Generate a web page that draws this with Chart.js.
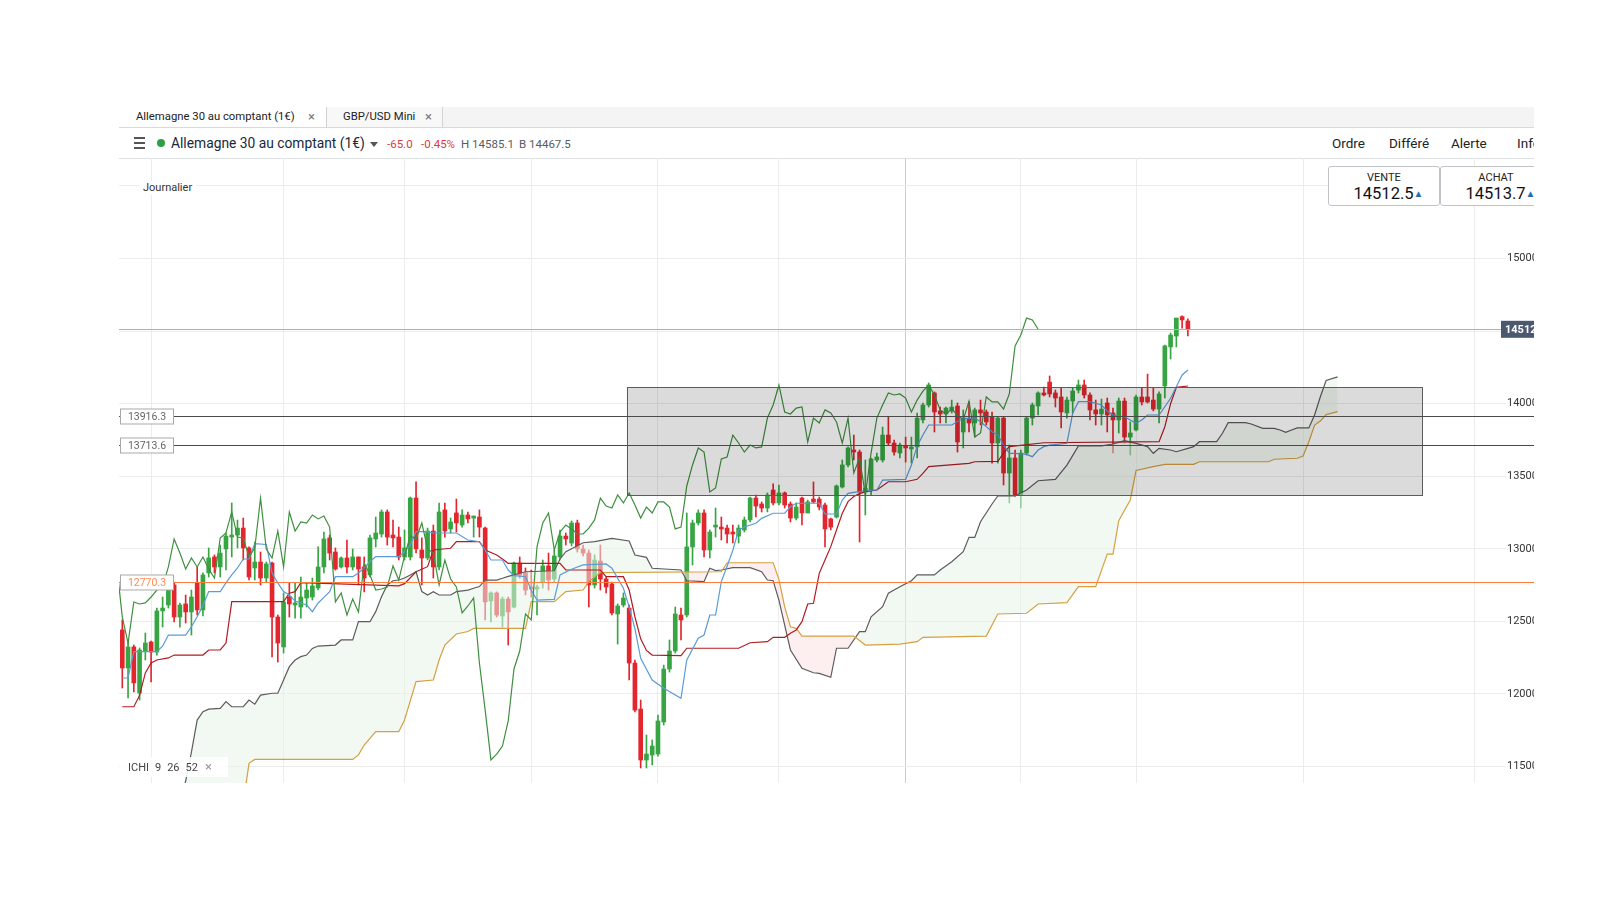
<!DOCTYPE html>
<html>
<head>
<meta charset="utf-8">
<script src="https://cdn.jsdelivr.net/npm/chart.js@4.4.1/dist/chart.umd.min.js"></script>
<style>
  body{margin:0;width:1600px;height:900px;background:#fff;font-family:Roboto,'Open Sans',sans-serif;position:relative;overflow:hidden;color:#222}
  .abs{position:absolute;white-space:nowrap}
  #tabs{left:119px;top:107px;width:1415px;height:20px;background:#f4f4f4;border-bottom:1px solid #d9d9d9}
  .tab{position:absolute;top:0;height:20px;line-height:20px;font-size:11.3px;color:#222;box-sizing:border-box;border-right:1px solid #d2d2d2}
  .tab .x{position:absolute;color:#777;font-size:13px}
  #bar2{left:119px;top:128px;width:1415px;height:30px;border-bottom:1px solid #dfe2e5}
  #wrap{left:119px;top:158px;width:1415px;height:625px;overflow:hidden}
  .nav{top:135px;font-size:13.5px;color:#222}
  .quote{top:166px;height:40px;border:1.5px solid #bfc3c7;border-radius:3px;background:#fff;box-sizing:border-box;text-align:center}
  .quote .t{font-size:11px;color:#222;margin-top:4px;line-height:13px}
  .quote .v{font-size:16.5px;color:#111;line-height:19px;padding-left:9px}
  .quote .v span{color:#2a6fb3;font-size:10px;vertical-align:2px}
</style>
</head>
<body>
<div id="tabs" class="abs">
  <div class="tab" style="left:0;width:208px;background:#fff"><span style="position:absolute;left:17px">Allemagne 30 au comptant (1€)</span><span class="x" style="left:189px">×</span></div>
  <div class="tab" style="left:208px;width:116px;background:#f8f8f8"><span style="position:absolute;left:16px">GBP/USD Mini</span><span class="x" style="left:98px">×</span></div>
</div>
<div id="bar2" class="abs"></div>
<div class="abs" style="left:134px;top:137px;width:11px;height:1.5px;background:#555"></div>
<div class="abs" style="left:134px;top:142px;width:11px;height:1.5px;background:#555"></div>
<div class="abs" style="left:134px;top:147px;width:11px;height:1.5px;background:#555"></div>
<div class="abs" style="left:157px;top:139px;width:8px;height:8px;border-radius:50%;background:#2ea043"></div>
<div class="abs" style="left:171px;top:135px;font-size:13.8px;color:#17283a">Allemagne 30 au comptant (1€)</div>
<div class="abs" style="left:370px;top:142px;width:0;height:0;border-left:4px solid transparent;border-right:4px solid transparent;border-top:5px solid #555"></div>
<div class="abs" style="left:387px;top:137px;font-size:11.5px;color:#e03a3e">-65.0</div>
<div class="abs" style="left:421px;top:137px;font-size:11.5px;color:#e03a3e">-0.45%</div>
<div class="abs" style="left:461px;top:137px;font-size:11.5px;color:#555d66">H 14585.1</div>
<div class="abs" style="left:519px;top:137px;font-size:11.5px;color:#555d66">B 14467.5</div>
<div class="abs nav" style="left:1332px">Ordre</div>
<div class="abs nav" style="left:1389px">Différé</div>
<div class="abs nav" style="left:1451px">Alerte</div>
<div class="abs nav" style="left:1517px;width:17px;overflow:hidden">Info</div>

<div id="wrap" class="abs"><canvas id="c" width="1460" height="625"></canvas></div>

<div class="abs quote" style="left:1328px;width:112px"><div class="t">VENTE</div><div class="v">14512.5<span>▲</span></div></div>
<div class="abs" style="left:1440px;top:166px;width:94px;height:40px;overflow:hidden">
  <div class="quote" style="position:absolute;left:0;top:0;width:112px"><div class="t">ACHAT</div><div class="v">14513.7<span>▲</span></div></div>
</div>
<div class="abs" style="left:139px;top:181px;font-size:11px;line-height:14px;padding:0 4px;background:#fff;color:#333">Journalier</div>
<div class="abs" style="left:120px;top:757px;width:108px;height:20px;background:rgba(255,255,255,0.88);font-size:11px;line-height:20px;color:#444">
  <span style="margin-left:8px">ICHI</span><span style="margin-left:6px">9</span><span style="margin-left:6px">26</span><span style="margin-left:6px">52</span><span style="margin-left:7px;color:#999;font-size:13px">×</span>
</div>

<script>
// bougies journalieres (Allemagne 30)
const openP = [12441,12179,12324,12007,12296,12358,12289,12572,12613,12751,12530,12620,12565,12765,12579,12834,12944,12875,12999,13081,
 13095,13143,13006,12868,12909,12799,12902,12530,12324,12668,12613,12599,12661,12668,12730,12875,13075,12978,12875,12937,
 12875,12944,12875,12820,13068,13102,13254,13095,13081,12944,12944,13350,12992,12937,13123,12875,13268,13137,13247,13164,
 13233,13212,13219,13143,12641,12696,12537,12654,12599,12902,12834,12737,12723,12771,12882,12792,12944,13088,13040,13178,
 12999,12971,12751,12916,12792,12758,12551,12613,12592,12213,11896,11545,11579,11586,11807,12172,12296,12544,12544,13013,
 13178,13247,12992,13150,13150,13143,13116,13088,13130,13199,13350,13309,13281,13405,13316,13385,13309,13212,13350,13247,
 13343,13343,13302,13206,13219,13426,13578,13681,13667,13392,13405,13612,13612,13784,13729,13660,13708,13688,13702,13888,
 13991,14074,13950,13929,13950,13984,13805,13895,13867,13957,13943,13908,13729,13901,13522,13626,13371,13660,13901,13984,
 14074,14149,14074,14046,13936,14018,14094,14129,14060,13957,13929,14005,13936,13888,14018,13770,13819,14046,14046,14025,
 13963,14122,14391,14466,14600,14570];
const highP = [12510,12358,12337,12317,12420,12365,12592,12668,12771,12771,12627,12682,12716,12875,12834,13006,12958,13026,13109,13316,
 13198,13212,13013,13047,12978,12909,12909,12544,12696,12765,12765,12806,12765,12799,13013,13116,13095,13006,12944,13061,
 12999,12944,12944,13095,13219,13268,13268,13198,13150,13130,13357,13461,13075,13143,13164,13316,13316,13212,13343,13268,
 13254,13226,13268,13150,12703,12703,12668,12668,12909,12944,12868,12854,12751,12923,12971,12992,13130,13109,13192,13198,
 13026,12992,12958,13026,12806,12771,12620,12696,12613,12234,11958,11717,11683,11855,12199,12372,12599,12592,13247,13198,
 13268,13268,13130,13281,13219,13164,13164,13164,13219,13357,13371,13323,13385,13447,13440,13392,13323,13316,13357,13336,
 13461,13357,13316,13212,13440,13612,13702,13784,13681,13612,13626,13660,13839,13908,13750,13729,13770,13770,13936,14005,
 14143,14081,13977,13977,14025,14005,13957,14012,13970,14025,13957,13943,13908,13908,13715,13681,13681,13908,14005,14081,
 14115,14191,14094,14108,14046,14108,14163,14163,14074,14025,14032,14039,13970,14039,14039,13874,14060,14108,14204,14108,
 14081,14404,14487,14590,14605,14585.1];
const lowP = [12041,11972,12014,11958,12234,12083,12268,12461,12592,12496,12461,12489,12406,12544,12537,12806,12834,12806,12854,12944,
 13006,12923,12785,12785,12751,12771,12255,12220,12282,12530,12523,12523,12599,12647,12716,12834,12923,12854,12868,12834,
 12854,12751,12703,12806,13013,13081,13026,13013,12923,12923,12923,12971,12751,12923,12799,12854,13081,13109,13116,13150,
 13178,13081,13081,12510,12496,12530,12461,12337,12592,12799,12682,12668,12544,12730,12716,12771,12923,13026,13020,12978,
 12951,12599,12730,12716,12696,12544,12344,12599,12096,11876,11490,11490,11511,11572,11786,12151,12282,12372,12530,12889,
 13164,12944,12937,13081,13061,13040,13040,13040,13116,13185,13219,13254,13254,13302,13302,13281,13185,13199,13164,13247,
 13316,13268,13013,13130,13212,13419,13564,13612,13047,13233,13371,13598,13598,13715,13646,13626,13598,13591,13626,13867,
 13977,13805,13867,13867,13936,13667,13695,13805,13770,13853,13853,13591,13591,13440,13316,13357,13281,13646,13853,13922,
 14053,14046,13977,13833,13901,13936,14074,14039,13888,13853,13853,13805,13660,13798,13729,13646,13812,13991,14005,13950,
 13867,14039,14308,14391,14521,14467.5];
const closeP = [12179,12324,12076,12303,12351,12289,12572,12592,12744,12530,12613,12565,12668,12579,12820,12937,12875,12971,13088,13095,
 13143,13006,12806,12909,12799,12896,12530,12351,12634,12620,12627,12668,12716,12744,12875,13068,12971,12861,12937,12875,
 12944,12861,12799,13075,13109,13254,13081,13075,12944,13006,13350,12999,12937,13123,12875,13254,13123,13185,13178,13233,
 13206,13226,13150,12634,12696,12544,12654,12565,12902,12820,12716,12723,12737,12882,12785,12951,13088,13068,13178,12999,
 12971,12751,12923,12792,12737,12558,12606,12661,12213,11889,11545,11586,11641,11814,12172,12296,12551,12510,13013,13178,
 13247,12992,13116,13164,13137,13102,13102,13143,13199,13350,13295,13281,13371,13316,13385,13302,13212,13288,13247,13323,
 13323,13288,13137,13150,13433,13578,13695,13667,13392,13419,13619,13633,13784,13729,13667,13715,13695,13702,13901,13991,
 14129,13943,13929,13970,13977,13736,13901,13867,13957,13936,13874,13729,13901,13522,13626,13371,13660,13901,13991,14074,
 14060,14067,14039,13943,14025,14087,14129,14060,13957,13929,13963,13922,13888,14018,13770,13798,14046,14012,14012,13963,
 14067,14398,14473,14590,14577,14512.5];

// Ichimoku 9 26 52 : [indice de bougie, prix]
const tenkan = [[0,12110],[1,12110],[2,12291],[6,12291],[7,12330],[8,12406],[11,12406],[12,12463],[13,12532],[14,12610],[15,12705],[17,12705],
 [18,12765],[19,12820],[20,12868],[21,12930],[22,12930],[23,13035],[25,13030],[26,12833],[27,12765],[28,12705],[29,12682],[30,12640],
 [31,12627],[32,12613],[33,12567],[34,12627],[35,12665],[36,12705],[37,12808],[40,12808],[41,12833],[42,12868],[43,12911],[44,12946],
 [48,12946],[49,12980],[50,13026],[51,13118],[53,13118],[54,13109],[58,13109],[60,13061],[62,13049],[63,12992],[64,12923],[66,12923],
 [67,12854],[68,12815],[70,12808],[71,12716],[72,12647],[75,12652],[76,12820],[78,12859],[80,12889],[84,12896],[85,12866],[87,12728],
 [88,12600],[89,12450],[90,12246],[92,12096],[94,12039],[97,11970],[98,12234],[100,12384],[101,12406],[102,12544],[103,12544],[104,12774],
 [105,12880],[106,12990],[107,13130],[108,13150],[110,13176],[111,13210],[113,13245],[115,13245],[116,13290],[117,13314],[121,13314],
 [122,13240],[124,13240],[125,13336],[126,13382],[127,13389],[129,13400],[131,13405],[132,13474],[136,13479],[137,13577],[138,13709],
 [139,13784],[140,13853],[144,13853],[146,13899],[148,13901],[149,13876],[150,13842],[151,13807],[152,13784],[153,13715],[154,13658],
 [155,13658],[157,13651],[158,13635],[159,13681],[160,13704],[161,13715],[164,13727],[165,13934],[166,14014],[168,14014],[170,13991],
 [171,13950],[172,13922],[174,13910],[176,13865],[177,13888],[178,13922],[180,13922],[181,13979],[182,14037],[183,14117],[184,14198],[185,14232]];
const kijun = [[0,11912],[2,11912],[3,11990],[4,12145],[5,12213],[6,12234],[8,12248],[9,12268],[14,12268],[15,12303],[17,12303],[18,12351],
 [19,12636],[28,12636],[29,12694],[30,12705],[31,12767],[48,12745],[49,12760],[51,12842],[53,12877],[54,12992],[57,13004],[58,13049],
 [62,13049],[63,12992],[65,12957],[66,12930],[67,12900],[76,12900],[77,12854],[83,12854],[84,12808],[87,12808],[88,12716],[89,12532],
 [90,12380],[91,12300],[92,12268],[97,12264],[98,12315],[107,12315],[109,12353],[112,12360],[113,12390],[115,12390],[116,12418],[117,12441],
 [118,12498],[119,12620],[120,12625],[121,12831],[122,12923],[123,13015],[124,13130],[125,13245],[126,13325],[127,13360],[128,13380],
 [129,13394],[131,13405],[133,13462],[136,13462],[138,13479],[139,13520],[140,13566],[147,13589],[148,13600],[152,13603],[153,13660],
 [154,13704],[160,13731],[180,13738],[181,13841],[182,14000],[183,14113],[185,14122]];
const senkouA = [[10,11250],[11,11400],[12,11600],[13,11820],[14,11878],[15,11895],[17,11901],[18,11947],[19,11912],[21,11912],[22,11958],
 [23,11930],[24,11992],[26,12005],[27,12005],[28,12096],[29,12188],[30,12234],[31,12257],[32,12268],[33,12314],[34,12330],[37,12337],
 [38,12372],[40,12372],[41,12498],[43,12498],[44,12567],[45,12670],[46,12751],[47,12780],[48,12785],[49,12799],[50,12820],[51,12842],
 [52,12705],[53,12682],[54,12705],[55,12682],[57,12682],[58,12705],[60,12716],[61,12728],[62,12740],[63,12785],[65,12785],[66,12797],
 [67,12810],[68,12820],[70,12842],[75,12849],[76,12930],[77,12980],[80,13042],[82,13049],[85,13072],[88,13054],[89,12957],[91,12941],
 [92,12866],[97,12854],[98,12780],[101,12774],[102,12866],[103,12850],[104,12854],[106,12870],[109,12870],[111,12842],[112,12785],
 [113,12780],[114,12647],[115,12475],[116,12303],[118,12177],[120,12146],[121,12142],[123,12115],[124,12315],[126,12315],[128,12429],
 [129,12429],[130,12532],[132,12601],[133,12694],[135,12739],[137,12780],[138,12820],[141,12820],[142,12854],[144,12911],[146,12980],
 [147,13079],[148,13079],[149,13187],[151,13309],[152,13364],[155,13364],[157,13405],[159,13469],[162,13479],[164,13577],[166,13709],
 [170,13709],[172,13722],[174,13745],[176,13727],[178,13704],[179,13658],[180,13692],[182,13681],[183,13669],[185,13692],[186,13704],
 [187,13738],[190,13738],[191,13796],[192,13869],[195,13869],[196,13860],[198,13830],[200,13830],[201,13819],[202,13803],[203,13819],
 [204,13833],[206,13833],[207,13922],[208,14048],[209,14160],[211,14185]];
const senkouB = [[0,11250],[21,11250],[22,11522],[23,11549],[40,11549],[41,11580],[42,11648],[44,11740],[48,11740],[49,11821],[51,12085],
 [54,12096],[55,12234],[56,12337],[58,12413],[60,12430],[61,12452],[70,12452],[71,12636],[75,12636],[77,12705],[80,12716],[81,12774],
 [83,12836],[104,12842],[105,12904],[113,12904],[114,12790],[115,12600],[116,12463],[117,12452],[118,12399],[127,12399],[129,12337],
 [135,12344],[138,12360],[139,12390],[150,12399],[152,12551],[157,12556],[159,12620],[164,12629],[166,12739],[169,12739],[171,12964],
 [172,12964],[173,13194],[175,13336],[176,13540],[179,13566],[181,13582],[186,13582],[187,13600],[199,13600],[200,13617],[204,13624],
 [205,13640],[206,13738],[207,13853],[208,13880],[209,13925],[211,13945]];
const chikouShift = 26;

// axes
const monthTicks = [5, 28, 49, 71, 93, 114, 136, 156, 176, 205, 234.75];
const yearTick = 136;
const priceTicks = [11500, 12000, 12500, 13000, 13500, 14000, 14500, 15000, 15500];
const xMin = -0.573, xMax = 239.19;
const yMin = 11386.5, yMax = 15692.8;

// niveaux traces
const levelLines = [13916.3, 13713.6];
const alertLevel = 12770.3;
const lastPrice = 14512.5;
const zone = {k0: 87.6, k1: 225.7, lo: 13371, hi: 14113};

const GREEN = '#38a543', RED = '#e3252e';
const idx = openP.map((_, i) => i);
const candleCol = idx.map(i => closeP[i] >= openP[i] ? GREEN : RED);
const pts = arr => arr.map(p => ({x: p[0], y: p[1]}));
const lineDs = (label, data, color, order, extra) => Object.assign({
  type: 'line', label, data, borderColor: color, borderWidth: 1.2, pointRadius: 0, tension: 0, fill: false, order
}, extra || {});

const overlay = {
  id: 'overlay',
  afterDatasetsDraw(chart) {
    const {ctx, chartArea: a, scales: {x, y}} = chart;
    const W = chart.width;
    ctx.save();
    // zone grise
    const bx0 = x.getPixelForValue(zone.k0), bx1 = x.getPixelForValue(zone.k1);
    const by0 = y.getPixelForValue(zone.hi), by1 = y.getPixelForValue(zone.lo);
    ctx.fillStyle = 'rgba(0,0,0,0.14)';
    ctx.fillRect(bx0, by0, bx1 - bx0, by1 - by0);
    ctx.strokeStyle = '#5c5c5c'; ctx.lineWidth = 1;
    ctx.strokeRect(Math.round(bx0) + 0.5, Math.round(by0) + 0.5, Math.round(bx1 - bx0), Math.round(by1 - by0));
    // lignes horizontales
    const hline = (v, col, w) => {
      const py = Math.round(y.getPixelForValue(v)) + 0.5;
      ctx.strokeStyle = col; ctx.lineWidth = w;
      ctx.beginPath(); ctx.moveTo(0, py); ctx.lineTo(W, py); ctx.stroke();
      return py;
    };
    hline(lastPrice, '#a4b0c0', 1);
    const tag = (v, txtCol) => {
      const py = Math.round(y.getPixelForValue(v)) + 0.5;
      ctx.fillStyle = '#fff'; ctx.strokeStyle = '#a9a9a9'; ctx.lineWidth = 1;
      ctx.fillRect(1.5, py - 7.5, 53, 15); ctx.strokeRect(1.5, py - 7.5, 53, 15);
      ctx.fillStyle = txtCol; ctx.font = '10.5px Roboto'; ctx.textAlign = 'center'; ctx.textBaseline = 'middle';
      ctx.fillText(v.toFixed(1), 28, py + 0.5);
    };
    levelLines.forEach(v => { hline(v, '#4a4a4a', 1.2); tag(v, '#666'); });
    hline(alertLevel, '#ff7a3d', 1.2); tag(alertLevel, '#ff8a55');
    // etiquette du dernier cours
    const py = y.getPixelForValue(lastPrice);
    ctx.fillStyle = '#4a5870';
    ctx.fillRect(a.right + 1, py - 8.5, 60, 17);
    ctx.fillStyle = '#fff'; ctx.font = 'bold 11px Roboto'; ctx.textAlign = 'left'; ctx.textBaseline = 'middle';
    ctx.fillText(lastPrice.toFixed(1), a.right + 5, py + 0.5);
    ctx.restore();
  }
};

new Chart(document.getElementById('c'), {
  type: 'bar',
  data: {
    datasets: [
      lineDs('Chikou', closeP.map((c, i) => ({x: i - chikouShift, y: c})), '#3f8f3f', 1),
      lineDs('Tenkan', pts(tenkan), '#5a9bd8', 1),
      lineDs('Kijun', pts(kijun), '#b01c22', 1),
      lineDs('Senkou B', pts(senkouB), '#d6a040', 2),
      lineDs('Senkou A', pts(senkouA), '#5c5c5c', 3, {
        fill: {target: 3, above: 'rgba(231,242,231,0.55)', below: 'rgba(252,226,226,0.55)'}
      }),
      {type: 'bar', label: 'mèches', data: idx.map(i => ({x: i, y: [lowP[i], highP[i]]})),
       backgroundColor: candleCol, barThickness: 1, grouped: false, order: 10},
      {type: 'bar', label: 'corps', data: idx.map(i => ({x: i, y: [openP[i], closeP[i]]})),
       backgroundColor: candleCol, barThickness: 4, minBarLength: 1, grouped: false, order: 9}
    ]
  },
  options: {
    responsive: false,
    animation: false,
    layout: {padding: 0},
    plugins: {legend: {display: false}, tooltip: {enabled: false}},
    scales: {
      x: {
        type: 'linear', min: xMin, max: xMax, offset: false,
        afterBuildTicks: s => { s.ticks = monthTicks.map(v => ({value: v})); },
        afterFit: s => { s.height = 0; s.paddingLeft = 0; s.paddingRight = 0; },
        ticks: {display: false},
        border: {display: false},
        grid: {offset: false, drawTicks: false, color: c => (c.tick && c.tick.value === yearTick) ? '#cdcdcd' : '#ececec'}
      },
      y: {
        position: 'right', min: yMin, max: yMax,
        afterBuildTicks: s => { s.ticks = priceTicks.map(v => ({value: v})); },
        afterFit: s => { s.width = 79; s.paddingTop = 0; s.paddingBottom = 0; },
        border: {display: false},
        grid: {color: '#ececec', drawTicks: true, tickLength: 6, tickColor: '#ececec'},
        ticks: {padding: 1, color: '#333', font: {family: 'Roboto', size: 11}, callback: v => String(v)}
      }
    }
  },
  plugins: [overlay]
});
</script>
</body>
</html>
